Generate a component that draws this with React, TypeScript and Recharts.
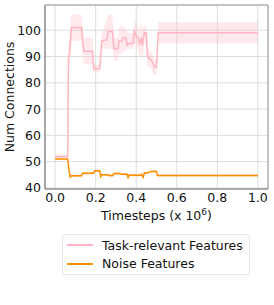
import {
  ComposedChart, Line, Area, XAxis, YAxis, CartesianGrid, ReferenceArea, Label,
} from 'recharts'

const FONT = '"DejaVu Sans", sans-serif'
const FS = 12.5

// task-relevant features: mean and shaded band
const taskT = [0, 0.062, 0.066, 0.072, 0.08, 0.13, 0.135, 0.142, 0.185, 0.19, 0.22, 0.23, 0.255, 0.262, 0.283, 0.29, 0.31, 0.315, 0.33, 0.335, 0.35, 0.355, 0.36, 0.385, 0.39, 0.4, 0.41, 0.415, 0.425, 0.43, 0.44, 0.45, 0.455, 0.47, 0.48, 0.49, 0.5, 0.508, 1.0]
const taskMean = [52, 52, 90, 91, 101, 101, 96, 92, 92, 85.3, 85.3, 96, 96.3, 99.5, 99.5, 93, 93, 96, 96, 97, 97, 94, 95, 95, 99.5, 98, 97, 95, 97, 94, 99, 99, 90, 89, 88, 86, 86, 99, 99]
const taskLo = [51.5, 51.5, 85, 88, 96, 96, 90, 87, 87, 84, 84, 93, 93, 93, 93, 88, 89, 91, 91, 92, 92, 93, 93, 93, 95, 94, 93, 90, 91, 89, 95, 95, 86, 86, 84, 83, 83, 95, 95]
const taskHi = [52.5, 52.5, 95, 98, 106, 106, 103, 97, 97, 87, 87, 99, 104, 106, 106, 97, 97, 101, 102, 101, 101, 99, 99, 99, 104, 102, 101, 99, 103, 100, 102, 101, 94, 92, 91, 89, 89, 103, 103]

// noise features
const noiseT = [0, 0.062, 0.068, 0.074, 0.08, 0.13, 0.135, 0.19, 0.195, 0.22, 0.225, 0.23, 0.26, 0.265, 0.285, 0.29, 0.32, 0.325, 0.355, 0.36, 0.365, 0.375, 0.42, 0.425, 0.435, 0.44, 0.45, 0.475, 0.5, 0.505, 1.0]
const noiseMean = [51, 51, 47, 44.1, 44.6, 44.6, 45.6, 45.6, 46.5, 46.5, 44.3, 45, 45, 44.7, 44.7, 45.5, 45.5, 45.2, 45.2, 44, 45, 44.8, 44.8, 45.2, 44, 45.8, 45.6, 46.3, 46.3, 44.7, 44.7]
const noiseSpread = [0.3, 0.3, 0.5, 0.4, 0.4, 0.4, 0.4, 0.4, 0.4, 0.4, 0.4, 0.4, 0.4, 0.4, 0.4, 0.4, 0.4, 0.4, 0.4, 0.4, 0.4, 0.4, 0.4, 0.4, 0.4, 0.4, 0.4, 0.4, 0.4, 0.3, 0.3]

const xTicks = [0, 0.2, 0.4, 0.6, 0.8, 1.0]
const yTicks = [40, 50, 60, 70, 80, 90, 100]

const taskRows = taskT.map((t, i) => ({ t, mean: taskMean[i], band: [taskLo[i], taskHi[i]] }))
const noiseRows = noiseT.map((t, i) => ({
  t, mean: noiseMean[i], band: [noiseMean[i] - noiseSpread[i], noiseMean[i] + noiseSpread[i]],
}))

const PINK = '#ffb6c1'
const ORANGE = '#ff8c00'

const XLabel = ({ viewBox }: any) => {
  const cx = viewBox.x + viewBox.width / 2
  return (
    <text x={cx} y={220} textAnchor="middle" fontFamily={FONT} fontSize={FS} fill="#111">
      <tspan>Timesteps (x 10</tspan>
      <tspan dy={-5} fontSize={9}>6</tspan>
      <tspan dy={5}>)</tspan>
    </text>
  )
}

const YLabel = ({ viewBox }: any) => {
  const cy = viewBox.y + viewBox.height / 2
  return (
    <text x={14} y={cy} transform={`rotate(-90 14 ${cy})`} textAnchor="middle" fontFamily={FONT} fontSize={FS} fill="#111">
      Num Connections
    </text>
  )
}

export default function App() {
  return (
    <div style={{ position: 'absolute', left: 0, top: 0, width: 274, height: 305, background: '#fff' }}>
      <ComposedChart width={274} height={305} margin={{ top: 5, right: 6, left: 0, bottom: 86 }}>
        <CartesianGrid stroke="#dddddd" strokeWidth={1} />
        <XAxis
          type="number"
          dataKey="t"
          domain={[-0.05, 1.05]}
          ticks={xTicks}
          tickFormatter={(v: number) => v.toFixed(1)}
          tick={{ fill: '#111', fontSize: FS, fontFamily: FONT }}
          tickLine={false}
          tickSize={0}
          tickMargin={4}
          axisLine={{ stroke: '#aaa', strokeWidth: 2 }}
          height={30}
          allowDuplicatedCategory={false}
        >
          <Label content={<XLabel />} />
        </XAxis>
        <YAxis
          type="number"
          domain={[39.6, 109.6]}
          ticks={yTicks}
          tick={{ fill: '#111', fontSize: FS, fontFamily: FONT }}
          tickLine={false}
          tickSize={0}
          tickMargin={4}
          axisLine={{ stroke: '#888' }}
          width={45}
        >
          <Label content={<YLabel />} />
        </YAxis>
        <ReferenceArea x1={-0.05} x2={1.05} y1={39.6} y2={109.6} fill="none" stroke="#999" strokeWidth={1} />
        <Area data={taskRows} dataKey="band" type="linear" stroke="none" fill={PINK} fillOpacity={0.3} isAnimationActive={false} />
        <Area data={noiseRows} dataKey="band" type="linear" stroke="none" fill={ORANGE} fillOpacity={0.3} isAnimationActive={false} />
        <Line data={taskRows} dataKey="mean" type="linear" stroke={PINK} strokeWidth={1.5} dot={false} isAnimationActive={false} />
        <Line data={noiseRows} dataKey="mean" type="linear" stroke={ORANGE} strokeWidth={1.5} dot={false} isAnimationActive={false} />
      </ComposedChart>
      <div
        style={{
          position: 'absolute', left: 62, top: 234, width: 188, height: 41,
          border: '1px solid #e8e8e8', borderRadius: 3, boxSizing: 'border-box',
          fontFamily: FONT, fontSize: FS, color: '#111',
        }}
      >
        {[
          { name: 'Task-relevant Features', color: PINK },
          { name: 'Noise Features', color: ORANGE },
        ].map((e, i) => (
          <div key={e.name} style={{ position: 'absolute', left: 4, top: 2 + i * 18.5, height: 16, display: 'flex', alignItems: 'center' }}>
            <div style={{ width: 26, height: 2, background: e.color }} />
            <span style={{ marginLeft: 9, whiteSpace: 'nowrap' }}>{e.name}</span>
          </div>
        ))}
      </div>
    </div>
  )
}
